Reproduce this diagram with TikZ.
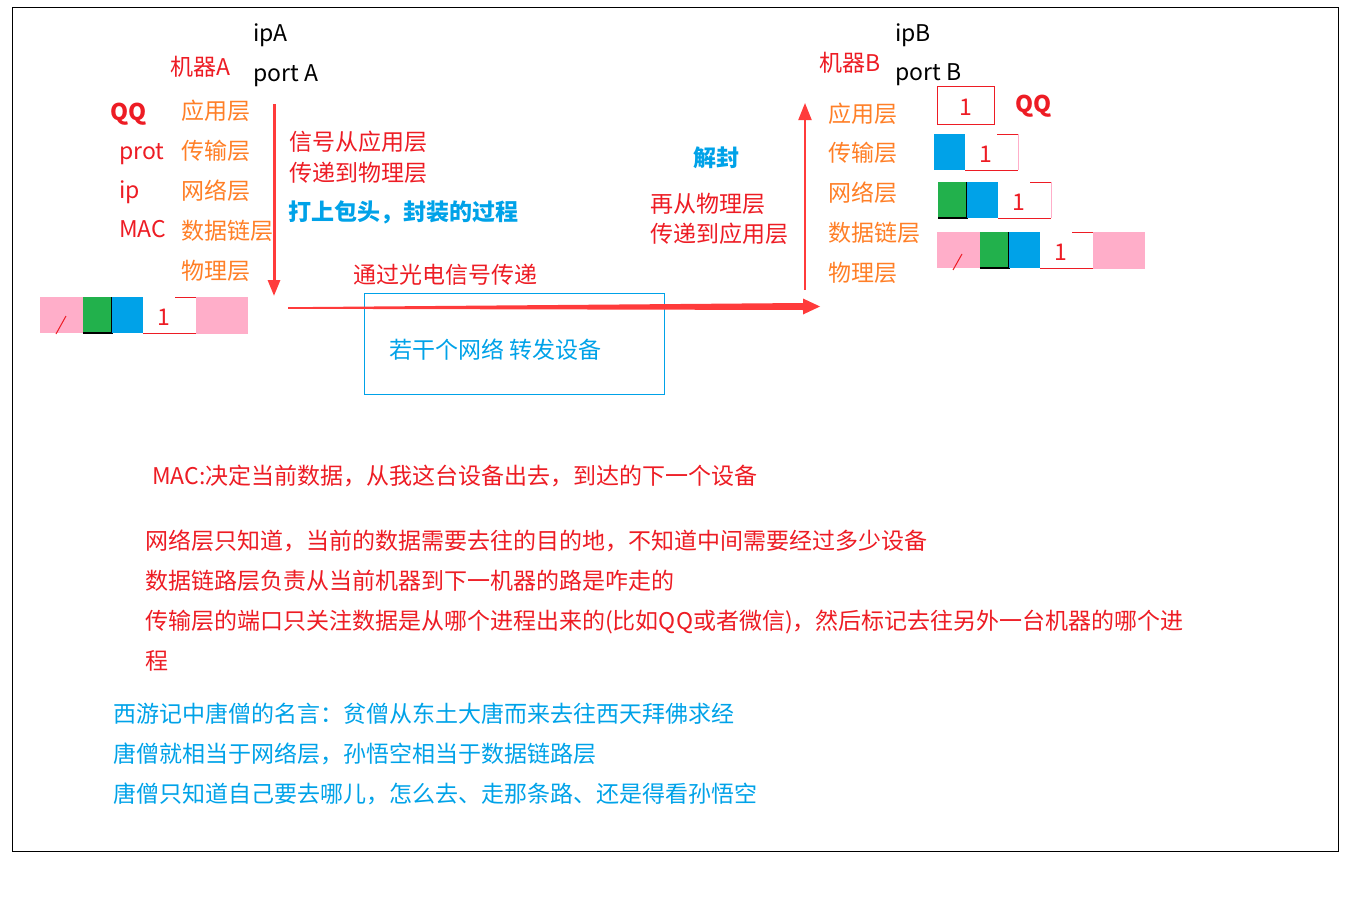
\documentclass[tikz,border=0pt]{standalone}
\usepackage{fontspec}
\setmainfont{Noto Sans CJK SC}
\definecolor{textred}{HTML}{ED1C24}
\definecolor{layerorange}{HTML}{FF7F27}
\definecolor{arrowred}{HTML}{FF3B3B}
\definecolor{skyblue}{HTML}{00A2E8}
\definecolor{pktgreen}{HTML}{22B14C}
\definecolor{pktpink}{HTML}{FFAEC9}
\usepackage{tikz}
\usetikzlibrary{arrows.meta}

\begin{document}
\begin{tikzpicture}[x=1pt, y=-1pt, >=Latex,
    txt/.style={anchor=west, inner sep=0pt, text height=18.6pt, text depth=0pt,
                font=\fontsize{23}{28}\selectfont},
    redtxt/.style={txt, text=textred},
    layer/.style={txt, text=layerorange},
    bluetxt/.style={txt, text=skyblue}]
      \useasboundingbox (0,0) rectangle (1358,899);
      \draw[line width=1pt] (12,8) rectangle (1338,851);
      % Machine A
      \node[txt] (ipA) at (253,32) {ipA};
      \node[txt] (portA) at (253,72) {port A};
      \node[redtxt] (hostA) at (170,66) {机器A};
      \node[redtxt, font=\fontsize{23}{28}\selectfont\bfseries] (qqA) at (110,111) {QQ};
      \node[redtxt] (prot) at (119,150) {prot};
      \node[redtxt] (ipfield) at (119,189) {ip};
      \node[redtxt] (macfield) at (119,228) {MAC};
      \foreach \name/\y/\t in {appA/110/应用层, transA/150/传输层, netA/190/网络层,
                               linkA/230/数据链层, physA/270/物理层}
        \node[layer] (\name) at (181,\y) {\t};
      % Encapsulation
      \coordinate (downtop) at (274,104);
      \coordinate (downend) at (274,296);
      \draw[arrowred, line width=3pt, -{Triangle[length=16pt,width=12pt]}] (downtop) -- (downend);
      \node[redtxt] (sendA1) at (289,141) {信号从应用层};
      \node[redtxt] (sendA2) at (289,172) {传递到物理层};
      \node[bluetxt, font=\fontsize{23}{28}\selectfont\bfseries] (encap) at (288,211) {打上包头，封装的过程};
      % Packet leaving A
      \begin{scope}[shift={(112,297)}]
        \fill[pktpink] (-72,0) rectangle (-29,36);
        \draw[textred, line width=1pt] (-56,37) -- (-46,19);
        \fill[pktgreen] (-29,0) rectangle (0,36);
        \draw[line width=1.2pt] (-29,36) -- (0,36) -- (0,0);
        \fill[skyblue] (0,0) rectangle (31,36);
        \draw[textred, line width=1pt] (31,36) -- (84,36) (63,0) -- (84,0);
        \node[redtxt, anchor=center] (oneA) at (52,19) {1};
        \fill[pktpink] (84,-0.5) rectangle (136,37);
      \end{scope}
      % Wire
      \node[redtxt] (optic) at (353,274) {通过光电信号传递};
      \node[draw=skyblue, line width=1pt, minimum width=300, minimum height=101] (netbox) at (514,343.5) {};
      \node[bluetxt] (nettxt) at (389,349) {若干个网络 转发设备};
      \coordinate (hstart) at (288,308);
      \coordinate (hend) at (820,306.5);
      \fill[arrowred] ([yshift=-0.8pt]hstart) -- ([xshift=-17pt,yshift=-3.5pt]hend)
        -- ([xshift=-17pt,yshift=-8pt]hend) -- (hend) -- ([xshift=-17pt,yshift=8pt]hend)
        -- ([xshift=-17pt,yshift=3.5pt]hend) -- ([yshift=0.8pt]hstart) -- cycle;
      % Decapsulation
      \node[bluetxt, font=\fontsize{23}{28}\selectfont\bfseries] (decap) at (693,157) {解封};
      \node[redtxt] (recvB1) at (650,203) {再从物理层};
      \node[redtxt] (recvB2) at (650,233) {传递到应用层};
      \coordinate (upbot) at (805,290);
      \coordinate (uptop) at (805,103);
      \draw[arrowred, line width=2pt, -{Triangle[length=17pt,width=13pt]}] (upbot) -- (uptop);
      % Machine B
      \node[redtxt] (hostB) at (819,62) {机器B};
      \node[txt] (ipB) at (895,32) {ipB};
      \node[txt] (portB) at (895,71) {port B};
      \foreach \name/\y/\t in {appB/113/应用层, transB/152/传输层, netB/192/网络层,
                               linkB/232/数据链层, physB/272/物理层}
        \node[layer] (\name) at (828,\y) {\t};
      \node[redtxt, font=\fontsize{23}{28}\selectfont\bfseries] (qqB) at (1015,103) {QQ};
      % Packets arriving at B
      \draw[textred, line width=1pt] (937,87) rectangle (994,124);
      \node[redtxt, anchor=center] (oneB1) at (966,106) {1};
      \begin{scope}[shift={(934,134)}]
        \fill[skyblue] (0,0) rectangle (31,36);
        \draw[textred, line width=1pt] (31,36) -- (84,36) (63,0) -- (84,0);
        \draw[pktpink, line width=1pt] (84,0) -- (84,36);
        \node[redtxt, anchor=center] (oneB2) at (52,19) {1};
      \end{scope}
      \begin{scope}[shift={(967,182)}]
        \fill[pktgreen] (-29,0) rectangle (0,36);
        \draw[line width=1.2pt] (-29,36) -- (0,36) -- (0,0);
        \fill[skyblue] (0,0) rectangle (31,36);
        \draw[textred, line width=1pt] (31,36) -- (84,36) (63,0) -- (84,0);
        \draw[pktpink, line width=1pt] (84,0) -- (84,36);
        \node[redtxt, anchor=center] (oneB3) at (52,19) {1};
      \end{scope}
      \begin{scope}[shift={(1009,232)}]
        \fill[pktpink] (-72,0) rectangle (-29,36);
        \draw[textred, line width=1pt] (-56,38) -- (-47,22);
        \fill[pktgreen] (-29,0) rectangle (0,36);
        \draw[line width=1.2pt] (-29,36) -- (0,36) -- (0,0);
        \fill[skyblue] (0,0) rectangle (31,36);
        \draw[textred, line width=1pt] (31,36) -- (84,36) (63,0) -- (84,0);
        \node[redtxt, anchor=center] (oneB4) at (52,19) {1};
        \fill[pktpink] (84,-0.5) rectangle (136,37);
      \end{scope}
      % Notes
      \node[redtxt] (macnote) at (152,475) {MAC:决定当前数据，从我这台设备出去，到达的下一个设备};
      \node[redtxt] (note1) at (145,540) {网络层只知道，当前的数据需要去往的目的地，不知道中间需要经过多少设备};
      \node[redtxt] (note2) at (145,580) {数据链路层负责从当前机器到下一机器的路是咋走的};
      \node[redtxt] (note3) at (145,620) {传输层的端口只关注数据是从哪个进程出来的(比如QQ或者微信)，然后标记去往另外一台机器的哪个进};
      \node[redtxt] (note4) at (145,660) {程};
      \node[bluetxt] (story1) at (113,713) {西游记中唐僧的名言：贫僧从东土大唐而来去往西天拜佛求经};
      \node[bluetxt] (story2) at (113,753) {唐僧就相当于网络层，孙悟空相当于数据链路层};
      \node[bluetxt] (story3) at (113,793) {唐僧只知道自己要去哪儿，怎么去、走那条路、还是得看孙悟空};
    \end{tikzpicture}
\end{document}
